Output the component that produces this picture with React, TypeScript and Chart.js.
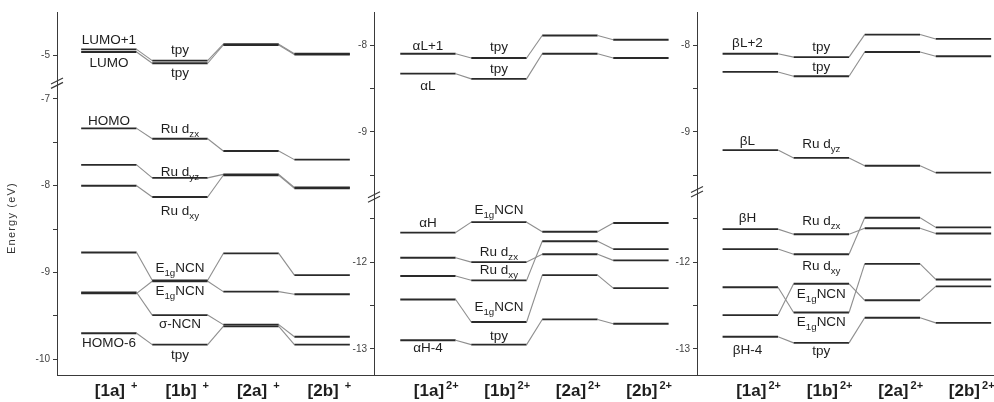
import React, { useEffect, useRef } from "react";
import { Chart, registerables } from "chart.js";

Chart.register(...registerables);

// ---------- data ----------
const compounds = ["1a", "1b", "2a", "2b"];

// Panel 1: cations [..]+ (eV)
const p1LUMO1 = [-4.93, -5.06, -4.87, -4.98];
const p1LUMO = [-4.96, -5.09, -4.88, -4.99];
const p1HOMO = [-7.34, -7.46, -7.6, -7.7];
const p1H1 = [-7.76, -7.91, -7.87, -8.02];
const p1H2 = [-8.0, -8.13, -7.88, -8.03];
const p1H3 = [-8.77, -9.09, -8.78, -9.03];
const p1H4 = [-9.24, -9.1, -9.22, -9.25];
const p1H5 = [-9.23, -9.49, -9.6, -9.74];
const p1H6 = [-9.7, -9.83, -9.62, -9.83];

// Panel 2: dications, alpha spin (eV)
const p2L1 = [-8.1, -8.15, -7.89, -7.94];
const p2L = [-8.33, -8.39, -8.1, -8.15];
const p2H = [-11.66, -11.54, -11.65, -11.55];
const p2H1 = [-11.95, -12.0, -11.91, -11.98];
const p2H2 = [-12.16, -12.21, -11.76, -11.85];
const p2H3 = [-12.43, -12.69, -12.15, -12.3];
const p2H4 = [-12.9, -12.95, -12.66, -12.71];

// Panel 3: dications, beta spin (eV)
const p3L2 = [-8.1, -8.14, -7.88, -7.93];
const p3L1 = [-8.31, -8.36, -8.08, -8.13];
const p3L = [-9.21, -9.3, -9.39, -9.47];
const p3H = [-11.62, -11.68, -11.61, -11.67];
const p3H1 = [-11.85, -11.91, -11.49, -11.6];
const p3H2 = [-12.29, -12.58, -12.02, -12.2];
const p3H3 = [-12.61, -12.25, -12.44, -12.28];
const p3H4 = [-12.86, -12.93, -12.64, -12.7];

// labels: [compound index, energy of text centre, text]
type Lab = [number, number, string];
const p1Labels: Lab[] = [
  [0, -4.83, "LUMO+1"],
  [0, -5.09, "LUMO"],
  [1, -4.94, "tpy"],
  [1, -5.21, "tpy"],
  [0, -7.26, "HOMO"],
  [1, -7.345, "Ru d_{zx}"],
  [1, -7.84, "Ru d_{yz}"],
  [1, -8.29, "Ru d_{xy}"],
  [1, -8.95, "E_{1g}NCN"],
  [1, -9.22, "E_{1g}NCN"],
  [1, -9.6, "σ-NCN"],
  [0, -9.82, "HOMO-6"],
  [1, -9.95, "tpy"],
];
const p2Labels: Lab[] = [
  [0, -8.01, "αL+1"],
  [1, -8.03, "tpy"],
  [1, -8.28, "tpy"],
  [0, -8.48, "αL"],
  [0, -11.55, "αH"],
  [1, -11.4, "E_{1g}NCN"],
  [1, -11.89, "Ru d_{zx}"],
  [1, -12.09, "Ru d_{xy}"],
  [1, -12.52, "E_{1g}NCN"],
  [1, -12.85, "tpy"],
  [0, -12.99, "αH-4"],
];
const p3Labels: Lab[] = [
  [-0.04, -7.98, "βL+2"],
  [1, -8.03, "tpy"],
  [1, -8.26, "tpy"],
  [-0.04, -9.11, "βL"],
  [1, -9.14, "Ru d_{yz}"],
  [-0.04, -11.5, "βH"],
  [1, -11.53, "Ru d_{zx}"],
  [1, -12.05, "Ru d_{xy}"],
  [1, -12.37, "E_{1g}NCN"],
  [1, -12.69, "E_{1g}NCN"],
  [-0.04, -13.01, "βH-4"],
  [1, -13.03, "tpy"],
];

const p1Major = [-5, -7, -8, -9, -10];
const p1Minor = [-7.5, -8.5, -9.5];
const p23Major = [-8, -9, -12, -13];
const p23Minor = [-8.5, -9.5, -11.5, -12.5];

// ---------- style ----------
const FONT = "'Liberation Sans', Arial, sans-serif";
const LEVEL_COLOR = "#2a2a2a";
const LINK_COLOR = "#8e8e8e";
const AXIS = "#3a3a3a";
const TEXT = "#1e1e1e";
const HW = 0.39;

interface PanelDef {
  series: number[][];
  labels: Lab[];
  major: number[];
  minor: number[];
  breakAt: number;
  shift: number;
  breakMark: number;
  yMin: number;
  yMax: number;
  xMin: number;
  xMax: number;
  charge: string;
  left: number;
  width: number;
  axisWidth: number;
  title: boolean;
}

const PANELS: PanelDef[] = [
  {
    series: [p1LUMO1, p1LUMO, p1HOMO, p1H1, p1H2, p1H3, p1H4, p1H5, p1H6],
    labels: p1Labels,
    major: p1Major,
    minor: p1Minor,
    breakAt: -6,
    shift: 1.5,
    breakMark: -6.82,
    yMin: -10.18,
    yMax: -6.0,
    xMin: -0.73,
    xMax: 3.73,
    charge: "+",
    left: 0,
    width: 374,
    axisWidth: 57,
    title: true,
  },
  {
    series: [p2L1, p2L, p2H, p2H1, p2H2, p2H3, p2H4],
    labels: p2Labels,
    major: p23Major,
    minor: p23Minor,
    breakAt: -10.5,
    shift: 1.5,
    breakMark: -11.25,
    yMin: -13.3,
    yMax: -9.12,
    xMin: -0.76,
    xMax: 3.79,
    charge: "2+",
    left: 324,
    width: 373,
    axisWidth: 50,
    title: false,
  },
  {
    series: [p3L2, p3L1, p3L, p3H, p3H1, p3H2, p3H3, p3H4],
    labels: p3Labels,
    major: p23Major,
    minor: p23Minor,
    breakAt: -10.5,
    shift: 1.5,
    breakMark: -11.19,
    yMin: -13.3,
    yMax: -9.12,
    xMin: -0.75,
    xMax: 3.43,
    charge: "2+",
    left: 647,
    width: 347,
    axisWidth: 50,
    title: false,
  },
];

function drawRich(ctx: CanvasRenderingContext2D, text: string, cx: number, cy: number, size: number) {
  const parts: { t: string; sub: boolean }[] = [];
  text.split(/(_\{[^}]*\})/).forEach((p) => {
    if (!p) return;
    if (p.startsWith("_{")) parts.push({ t: p.slice(2, -1), sub: true });
    else parts.push({ t: p, sub: false });
  });
  const subSize = size * 0.72;
  let total = 0;
  const widths = parts.map((p) => {
    ctx.font = `${p.sub ? subSize : size}px ${FONT}`;
    const w = ctx.measureText(p.t).width;
    total += w;
    return w;
  });
  let x = cx - total / 2;
  ctx.textAlign = "left";
  ctx.textBaseline = "middle";
  parts.forEach((p, i) => {
    ctx.font = `${p.sub ? subSize : size}px ${FONT}`;
    ctx.fillText(p.t, x, p.sub ? cy + size * 0.38 : cy);
    x += widths[i];
  });
}

function PanelChart({ def }: { def: PanelDef }) {
  const ref = useRef<HTMLCanvasElement>(null);
  useEffect(() => {
    if (!ref.current) return;
    const toD = (e: number) => (e > def.breakAt ? e - def.shift : e);
    const datasets = def.series.map((vals) => ({
      data: vals.flatMap((v, i) => [
        { x: i - HW, y: toD(v) },
        { x: i + HW, y: toD(v) },
      ]),
      borderColor: LEVEL_COLOR,
      borderWidth: 1.9,
      pointRadius: 0,
      fill: false,
      tension: 0,
      segment: {
        borderColor: (c: any) => (c.p0DataIndex % 2 === 0 ? LEVEL_COLOR : LINK_COLOR),
        borderWidth: (c: any) => (c.p0DataIndex % 2 === 0 ? 1.9 : 1.1),
      },
    }));
    const labelMap = new Map<string, string>();
    def.major.forEach((v) => labelMap.set(toD(v).toFixed(3), String(v)));
    const tickVals = [...def.major, ...def.minor].map(toD).sort((a, b) => a - b);

    const overlay = {
      id: "overlay" + def.left,
      afterDraw(chart: any) {
        const ctx: CanvasRenderingContext2D = chart.ctx;
        const xs = chart.scales.x;
        const ys = chart.scales.y;
        ctx.save();
        ctx.fillStyle = TEXT;
        def.labels.forEach(([c, e, t]) => {
          drawRich(ctx, t, xs.getPixelForValue(c), ys.getPixelForValue(toD(e)), 13.5);
        });
        // category labels
        compounds.forEach((c, i) => {
          const cx = xs.getPixelForValue(i) + 1;
          const base = xs.top + 21;
          ctx.font = `bold 17px ${FONT}`;
          ctx.textAlign = "center";
          ctx.textBaseline = "alphabetic";
          const main = `[${c}]`;
          const w = ctx.measureText(main).width;
          ctx.fillText(main, cx, base);
          ctx.font = `bold 11px ${FONT}`;
          ctx.textAlign = "left";
          ctx.fillText(def.charge, cx + w / 2 + (def.charge.length === 1 ? 6 : 2), base - 7);
        });
        // axis break marks
        const bx = chart.chartArea.left;
        const by = ys.getPixelForValue(def.breakMark);
        ctx.strokeStyle = AXIS;
        ctx.lineWidth = 1.2;
        [-2.2, 2.2].forEach((o) => {
          ctx.beginPath();
          ctx.moveTo(bx - 6, by + o + 3);
          ctx.lineTo(bx + 6, by + o - 3);
          ctx.stroke();
        });
        if (def.title) {
          ctx.translate(12, 218);
          ctx.rotate(-Math.PI / 2);
          ctx.font = `11px ${FONT}`;
          (ctx as any).letterSpacing = "1.2px";
          ctx.textAlign = "center";
          ctx.textBaseline = "middle";
          ctx.fillStyle = "#333";
          ctx.fillText("Energy (eV)", 0, 0);
        }
        ctx.restore();
      },
    };

    const chart = new Chart(ref.current, {
      type: "line",
      data: { datasets: datasets as any },
      options: {
        animation: false,
        responsive: false,
        events: [],
        layout: { padding: { top: 12, left: 0, right: 0, bottom: 0 } },
        plugins: { legend: { display: false }, tooltip: { enabled: false } },
        scales: {
          x: {
            type: "linear",
            min: def.xMin,
            max: def.xMax,
            ticks: { display: false },
            grid: { display: false, drawTicks: false },
            border: { display: true, color: AXIS, width: 1 },
            afterFit: (s: any) => {
              s.height = 27;
            },
          },
          y: {
            type: "linear",
            min: def.yMin,
            max: def.yMax,
            afterBuildTicks: (s: any) => {
              s.ticks = tickVals.map((v) => ({ value: v }));
            },
            ticks: {
              autoSkip: false,
              padding: 3,
              color: "#444",
              font: { family: FONT, size: 10 },
              callback: (v: any) => labelMap.get(Number(v).toFixed(3)) ?? "",
            },
            grid: { display: true, drawOnChartArea: false, drawTicks: true, tickLength: 4, tickColor: AXIS },
            border: { display: true, color: AXIS, width: 1 },
            afterFit: (s: any) => {
              s.width = def.axisWidth;
            },
          },
        },
      } as any,
      plugins: [overlay],
    });
    return () => chart.destroy();
  }, [def]);
  return (
    <canvas
      ref={ref}
      width={def.width}
      height={402}
      style={{ position: "absolute", left: def.left, top: 0 }}
    />
  );
}

export default function App() {
  return (
    <div
      style={{
        position: "fixed",
        left: 0,
        top: 0,
        width: 994,
        height: 402,
        background: "#fff",
        overflow: "hidden",
      }}
    >
      {PANELS.map((p, i) => (
        <PanelChart key={i} def={p} />
      ))}
    </div>
  );
}
